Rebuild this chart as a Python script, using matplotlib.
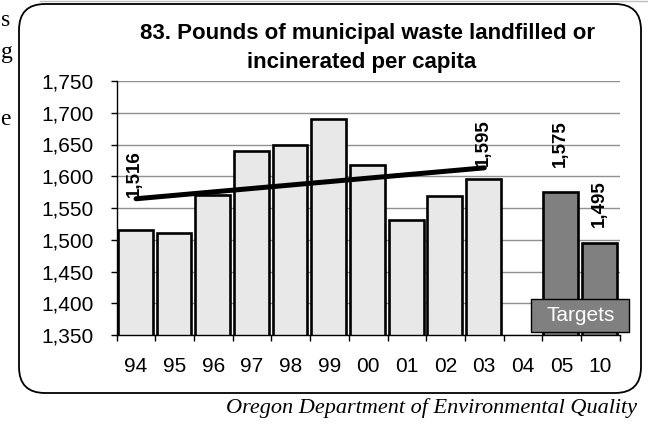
import numpy as np
import matplotlib.pyplot as plt
from matplotlib.patches import FancyBboxPatch, Rectangle

years = ["94", "95", "96", "97", "98", "99", "00", "01", "02", "03", "04", "05", "10"]
actual = [1516, 1511, 1570, 1640, 1650, 1690, 1617, 1531, 1569, 1595]
target_years = ["05", "10"]
targets = [1575, 1495]

plt.rcParams['font.family'] = ['Liberation Sans', 'DejaVu Sans']

fig = plt.figure(figsize=(6.48, 4.25), dpi=100)

# background layer in pixel units for the frame and page text
bg = fig.add_axes([0, 0, 1, 1], zorder=0)
bg.set_xlim(0, 648)
bg.set_ylim(425, 0)
bg.axis('off')
frame = FancyBboxPatch((19, 4), 622, 389, boxstyle="round,pad=0,rounding_size=26",
                       fc='white', ec='black', lw=1.3)
bg.add_patch(frame)
bg.plot([40, 648], [0.5, 0.5], color='#c0c0c0', lw=1)
for ch, yy in [("s", 20), ("g", 52), ("e", 119)]:
    bg.text(0.5, yy, ch, ha='left', va='center', fontsize=17,
            family='Liberation Serif')
bg.text(637, 408, "Oregon Department of Environmental Quality", ha='right', va='center',
        fontsize=16, style='italic', family='Liberation Serif')
bg.text(368, 33, "83. Pounds of municipal waste landfilled or", ha='center', va='center',
        fontsize=16, fontweight='bold')
bg.text(362, 62, "incinerated per capita", ha='center', va='center',
        fontsize=16, fontweight='bold')

ax = fig.add_axes([116.7 / 648, 90 / 425, 503 / 648, 254 / 425], zorder=1)
ax.patch.set_alpha(0)

x_act = np.arange(len(actual))
x_tgt = np.array([years.index(y) for y in target_years])

ax.bar(x_act - 0.47, actual, width=0.9, align='edge',
       color='#e8e8e8', edgecolor='black', lw=1.9, zorder=2)
ax.bar(x_tgt - 0.47, targets, width=0.9, align='edge',
       color='#808080', edgecolor='black', lw=1.9, zorder=2)

# linear trend over the actual years
slope, icpt = np.polyfit(x_act, actual, 1)
x_tr = np.array([x_act[0], x_act[-1]])
y_tr = slope * x_tr + icpt
ax.plot(x_tr, y_tr, color='black', lw=3.6, solid_capstyle='round', zorder=3)

for xi, yi, val in [(x_tr[0], y_tr[0], actual[0]), (x_tr[1], y_tr[1], actual[-1])]:
    ax.annotate(f"{val:,}", (xi, yi), xytext=(-1, 1), textcoords='offset points',
                rotation=90, ha='center', va='bottom', fontsize=13.5, fontweight='bold')
for xi, val, off in zip(x_tgt, targets, [18, 11.5]):
    ax.annotate(f"{val:,}", (xi, val), xytext=(-1, off), textcoords='offset points',
                rotation=90, ha='center', va='bottom', fontsize=13.5, fontweight='bold')

# "Targets" tag under the target bars
ax.add_patch(Rectangle((10.2, 1355), 2.55, 52, fc='#808080', ec='black', lw=1,
                       clip_on=False, zorder=4))
ax.text(11.48, 1381, "Targets", color='white', ha='center', va='center',
        fontsize=15, zorder=5)

ax.set_ylim(1350, 1750)
ax.set_xlim(-0.5, 12.5)
ax.set_yticks(np.arange(1350, 1751, 50))
ax.set_yticklabels([f"{v:,}" for v in range(1350, 1751, 50)], fontsize=15)
ax.set_xticks(np.arange(len(years)))
ax.set_xticklabels(years, fontsize=15)
ax.set_xticks(np.arange(len(years) + 1) - 0.5, minor=True)
ax.tick_params(axis='x', which='major', length=0, pad=16)
ax.tick_params(axis='x', which='minor', length=4.5, width=1)
ax.tick_params(axis='y', length=4.5, width=1, pad=12)
ax.grid(axis='y', color='#909090', lw=1, zorder=0)
ax.set_axisbelow(True)
for s in ['top', 'right']:
    ax.spines[s].set_visible(False)
ax.spines['left'].set_lw(1)
ax.spines['bottom'].set_lw(1)

fig.savefig("out.png", dpi=100)
